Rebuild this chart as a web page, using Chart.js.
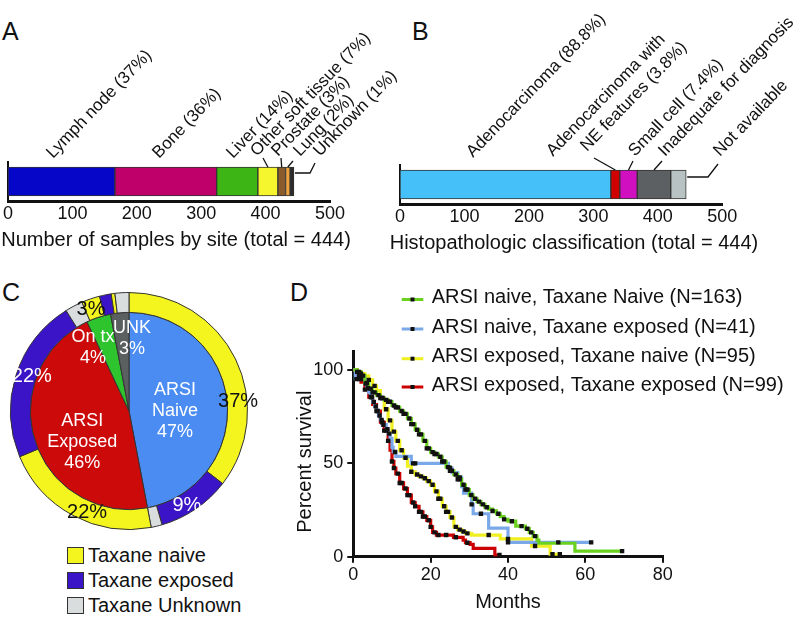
<!DOCTYPE html>
<html>
<head>
<meta charset="utf-8">
<title>Samples, histology, treatment and survival</title>
<script src="https://cdn.jsdelivr.net/npm/chart.js@4.4.1/dist/chart.umd.min.js"></script>
<style>
  html, body { margin: 0; padding: 0; background: #fff; }
  body { position: relative; width: 800px; height: 620px; overflow: hidden; font-family: "Liberation Sans", Arial, sans-serif; color: #111; }
  canvas { position: absolute; }
  .letter { position: absolute; font-size: 25px; line-height: 25px; }
  .key { position: absolute; left: 67px; height: 20px; font-size: 20px; line-height: 20px; white-space: nowrap; }
  .key i { position: absolute; left: 0; top: 2px; width: 15px; height: 15px; border: 1px solid #333; }
  .key span { position: absolute; left: 21px; top: 0; }
</style>
</head>
<body>
<div class="letter" style="left:2px;top:19px">A</div>
<div class="letter" style="left:412px;top:19px">B</div>
<div class="letter" style="left:2px;top:280px">C</div>
<div class="letter" style="left:290px;top:280px">D</div>

<canvas id="histoChart" width="410" height="260" style="left:390px;top:0"></canvas>
<canvas id="siteChart" width="420" height="260" style="left:0;top:0"></canvas>
<canvas id="treatChart" width="260" height="260" style="left:0;top:280px"></canvas>
<canvas id="survChart" width="510" height="340" style="left:290px;top:280px"></canvas>
<div id="treatKey"></div>

<script>
const FONT = '"Liberation Sans", Arial, sans-serif';
Chart.defaults.font.family = FONT;
Chart.defaults.color = '#111';

// A - samples by site
const siteLabels = ['Lymph node (37%)', 'Bone (36%)', 'Liver (14%)', 'Other soft tissue (7%)', 'Prostate (3%)', 'Lung (2%)', 'Unknown (1%)'];
const siteCounts = [166, 158, 64, 31, 12, 7, 6];
const siteColors = ['#0606c8', '#c0006a', '#3db515', '#f6f62e', '#8a5a2a', '#eea23a', '#2b2b2b'];

// B - histopathology
const histoLabels = ['Adenocarcinoma (88.8%)', 'Adenocarcinoma with', 'NE features (3.8%)', 'Small cell (7.4%)', 'Inadequate for diagnosis', 'Not available'];
const histoCounts = [327, 14, 27, 52, 24];
const histoColors = ['#45c0f8', '#d00000', '#d010c0', '#5c6062', '#b8c2c2'];

const countTicks = [0, 100, 200, 300, 400, 500];

// C - treatment status (inner = ARSI, outer = taxane)
const arsiLabels = [['ARSI', 'Naive', '47%'], ['ARSI', 'Exposed', '46%'], ['On tx', '4%'], ['UNK', '3%']];
const arsiPct = [47, 46, 4, 3];
const arsiColors = ['#4a8cf2', '#cc0a0a', '#2ec42e', '#5a5f5f'];
const taxaneStatus = ['naive', 'exposed', 'unknown', 'naive', 'exposed', 'unknown', 'naive', 'exposed', 'naive', 'unknown'];
const taxanePct = [35.5, 10, 1.5, 21.7, 22.4, 2.4, 2.5, 1.6, 0.5, 1.9];
const taxaneNotes = ['37%', '9%', '', '22%', '22%', '', '3%', '', '', ''];
const taxaneKey = ['Taxane naive', 'Taxane exposed', 'Taxane Unknown'];
const taxaneColors = { naive: '#f4f41e', exposed: '#3b14c8', unknown: '#d9dddd' };

// D - Kaplan-Meier
const survTicks = [0, 50, 100];
const monthTicks = [0, 20, 40, 60, 80];
const groupNames = ['ARSI naive, Taxane Naive (N=163)', 'ARSI naive, Taxane exposed (N=41)', 'ARSI exposed, Taxane naive (N=95)', 'ARSI exposed, Taxane exposed (N=99)'];
const groupColors = ['#6ad11f', '#7aa8e8', '#f0f020', '#cc0000'];

const naiveNaiveMonths = [0, 1, 2, 3, 4, 5, 6, 7, 8, 9, 10, 11, 12, 13, 14, 15, 16, 17, 18, 19, 20, 21, 22, 23, 24, 25, 26, 27, 28, 29, 30, 31, 32, 33, 34, 35, 36, 37, 38, 39, 40, 42, 44.5, 45.5, 46.5, 47.5, 48, 57.3, 69.5];
const naiveNaiveSurv = [100, 99, 97, 93, 90, 88, 86.5, 85, 84, 83, 81, 80, 78, 76.5, 74, 71, 68, 65.5, 62, 58, 56, 55, 53.5, 51, 48, 46, 44, 41.5, 38.5, 36, 33, 31, 29.5, 28, 26.5, 25.5, 24.5, 23, 21.5, 20, 19, 16.4, 15, 13, 11, 8.9, 7.2, 3, 3];
const naiveNaiveCensor = [1.5, 2.5, 3.5, 4.5, 5, 5.5, 6.5, 7, 7.5, 8.5, 9, 9.5, 10.5, 11, 11.5, 12.5, 13, 13.5, 14.5, 15, 15.5, 16.5, 17, 17.5, 18.5, 19, 19.5, 20.5, 21, 21.5, 22.5, 23, 23.5, 24.5, 25, 25.5, 26.5, 27, 27.5, 28.5, 29, 29.5, 30.5, 31.5, 32.5, 33.5, 34.5, 36, 37.5, 39, 41, 43.5, 45, 46, 47, 69.5];

const naiveExpMonths = [0, 0.5, 3, 3.5, 4, 4.5, 5, 5.5, 6, 6.5, 7, 7.5, 8.5, 9, 9.5, 10, 10.3, 11, 15, 24.6, 25.5, 27, 28, 28.5, 30.6, 31, 35, 40, 61.5];
const naiveExpSurv = [100, 95.1, 92.7, 90.2, 87.8, 85.4, 82.9, 80.5, 78, 75.6, 73.2, 70.7, 68.3, 65.9, 63.4, 58.5, 56.1, 53.7, 50, 47.5, 45, 42.5, 37.5, 34, 28, 23, 15.3, 7.7, 7.7];
const naiveExpCensor = [0.8, 1.5, 2, 3.2, 3.8, 4.8, 5.3, 5.8, 6.3, 6.8, 7.3, 7.8, 8.8, 9.3, 10.8, 15.5, 16, 25, 27.5, 30.6, 33, 40, 53, 61.5];

const expNaiveMonths = [0, 1, 2, 3, 4, 5, 6, 7, 8, 9, 10, 11, 12, 13, 14, 15, 16, 17, 18, 19, 20, 21, 22, 23, 24, 25, 26, 27, 28, 29, 30.6, 38, 46.1, 50.9, 53.4];
const expNaiveSurv = [100, 99, 98, 96.8, 94.7, 91.5, 89, 85, 79, 73, 67, 62, 57, 53, 48.5, 45.5, 44, 43, 42, 40.5, 38.5, 35, 31, 27, 24, 21, 16, 14.5, 13.5, 12.5, 11.6, 9.5, 5.7, 1.3, 1.3];
const expNaiveCensor = [1, 2, 4, 5.5, 7.5, 8.5, 9.5, 10.5, 11.5, 12.5, 13.5, 15, 16.5, 17.5, 18.5, 19.5, 20.5, 21.5, 22, 22.5, 23.5, 24, 24.5, 25.5, 26.5, 27.5, 28.5, 29.5, 35, 40, 47, 51.5, 53.4];

const expExpMonths = [0, 1, 2, 3, 4, 5, 6, 7, 8, 9, 9.5, 10, 10.5, 11, 12, 13, 14, 15, 16, 17, 18, 19, 20, 20.5, 21.5, 25.9, 28.4, 29, 30.2, 31, 36.6, 37.8];
const expExpSurv = [100, 97, 93.5, 89.5, 85.5, 81.5, 78, 72, 67.5, 62, 57, 51, 47.5, 44.5, 39.5, 36.5, 33, 29, 27, 24, 21.5, 19.5, 16, 13, 11.6, 10.4, 8.9, 7.5, 6.6, 4.5, 0.9, 0.9];
const expExpCensor = [1.5, 3, 4.5, 6, 7.5, 8, 8.5, 9, 10, 10.5, 11.5, 12, 12.5, 13.5, 14, 14.5, 15.5, 16, 17, 17.5, 18, 18.5, 19.5, 20, 21, 22, 24, 26.5, 29.5, 37.8];

// slanted labels, leader lines and axis title for the stacked bars
function slantPlugin(opts) {
    return {
        id: 'slant',
        afterDraw(chart) {
            const ctx = chart.ctx;
            ctx.save();
            ctx.strokeStyle = '#111';
            ctx.lineWidth = 1.3;
            opts.leaders.forEach(l => {
                const bar = chart.getDatasetMeta(l.seg).data[0];
                const top = bar.y - bar.height / 2;
                let sx = (bar.base + bar.x) / 2, sy = top;
                if (l.from === 'end') { sx = bar.x + 1; sy = top + l.dy; }
                ctx.beginPath();
                ctx.moveTo(sx, sy);
                l.pts.forEach(p => ctx.lineTo(p[0], p[1]));
                ctx.stroke();
            });
            ctx.fillStyle = '#111';
            ctx.font = '17px ' + FONT;
            ctx.textAlign = 'left';
            ctx.textBaseline = 'alphabetic';
            opts.notes.forEach(n => {
                ctx.save();
                ctx.translate(n.x, n.y);
                ctx.rotate(-46 * Math.PI / 180);
                ctx.fillText(n.text, 0, 0);
                ctx.restore();
            });
            // axis title, drawn here so it is not squeezed to the axis width
            ctx.font = '20px ' + FONT;
            ctx.textAlign = 'center';
            ctx.textBaseline = 'middle';
            ctx.fillText(opts.title, opts.titleX, opts.titleY);
            ctx.restore();
        }
    };
}

function barPanel(id, counts, colors, opts) {
    return new Chart(document.getElementById(id), {
        type: 'bar',
        data: {
            labels: [''],
            datasets: counts.map((v, i) => ({
                data: [v],
                backgroundColor: colors[i],
                borderColor: '#333',
                borderWidth: 1,
                borderSkipped: false,
                barThickness: 29
            }))
        },
        options: {
            indexAxis: 'y',
            responsive: false,
            animation: false,
            layout: { padding: opts.padding },
            plugins: { legend: { display: false }, tooltip: { enabled: false } },
            scales: {
                x: {
                    stacked: true, min: 0, max: 500,
                    afterBuildTicks: s => { s.ticks = countTicks.map(v => ({ value: v })); },
                    ticks: { font: { size: 18 }, padding: 2.2, maxRotation: 0 },
                    grid: { display: false, drawTicks: false },
                    border: { display: true, color: '#111', width: 3 },
                    title: { display: false },
                    afterFit: s => { s.height = opts.axisHeight; }
                },
                y: {
                    stacked: true,
                    ticks: { display: false },
                    grid: { display: false, drawTicks: false },
                    border: { display: true, color: '#111', width: 2 },
                    afterFit: s => { s.width = 0; }
                }
            }
        },
        plugins: [slantPlugin(opts)]
    });
}

barPanel('siteChart', siteCounts, siteColors, {
    padding: { left: 8, right: 90, top: 162, bottom: 0 },
    axisHeight: 59,
    title: 'Number of samples by site (total = 444)', titleX: 176, titleY: 240,
    notes: [
        { text: siteLabels[0], x: 53, y: 159 },
        { text: siteLabels[1], x: 159, y: 159 },
        { text: siteLabels[2], x: 233, y: 159 },
        { text: siteLabels[3], x: 257, y: 157 },
        { text: siteLabels[4], x: 278, y: 157 },
        { text: siteLabels[5], x: 300, y: 157 },
        { text: siteLabels[6], x: 320, y: 157 }
    ],
    leaders: [
        { seg: 3, pts: [[263, 158]] },
        { seg: 4, pts: [[281, 158]] },
        { seg: 5, pts: [[293, 161]] },
        { seg: 6, from: 'end', dy: 6, pts: [[310, 173], [315, 163]] }
    ]
});

barPanel('histoChart', histoCounts, histoColors, {
    padding: { left: 10, right: 77.7, top: 165, bottom: 0 },
    axisHeight: 56,
    title: 'Histopathologic classification (total = 444)', titleX: 184, titleY: 243,
    notes: [
        { text: histoLabels[0], x: 83, y: 158 },
        { text: histoLabels[1], x: 163, y: 157 },
        { text: histoLabels[2], x: 197, y: 152 },
        { text: histoLabels[3], x: 245, y: 157 },
        { text: histoLabels[4], x: 275, y: 157 },
        { text: histoLabels[5], x: 330, y: 157 }
    ],
    leaders: [
        { seg: 1, pts: [[204, 158]] },
        { seg: 2, pts: [[243, 161]] },
        { seg: 3, pts: [[272, 161]] },
        { seg: 4, from: 'end', dy: 7, pts: [[318, 177], [328, 164]] }
    ]
});

// C - nested pie
const ringNotes = [
    { a: 84.8, r: 109.5, color: '#111' },
    { a: 148.6, r: 111, color: '#fff' },
    null,
    { a: 202.4, r: 110, color: '#111' },
    { a: 289.3, r: 103, color: '#fff' },
    null,
    { a: 339.4, r: 108, color: '#111' },
    null, null, null
];
const innerNotes = [
    { a: 90, r: 46 },
    { a: 236.6, r: 56 },
    { a: 330.3, r: 72.6 },
    { a: 2.4, r: 73 }
];

const pieText = {
    id: 'pieText',
    afterDraw(chart) {
        const ctx = chart.ctx;
        const arc = chart.getDatasetMeta(0).data[0];
        const cx = arc.x, cy = arc.y;
        const at = (a, r) => [cx + r * Math.sin(a * Math.PI / 180), cy - r * Math.cos(a * Math.PI / 180)];
        ctx.save();
        ctx.textAlign = 'center';
        ctx.textBaseline = 'middle';
        ctx.font = '20px ' + FONT;
        taxaneNotes.forEach((t, i) => {
            const n = ringNotes[i];
            if (!t || !n) return;
            const [x, y] = at(n.a, n.r);
            ctx.fillStyle = n.color;
            ctx.fillText(t, x, y);
        });
        ctx.font = '18px ' + FONT;
        ctx.fillStyle = '#fff';
        arsiLabels.forEach((lines, i) => {
            const n = innerNotes[i];
            const [x, y] = at(n.a, n.r);
            const y0 = y - (lines.length - 1) * 21 / 2;
            lines.forEach((s, k) => ctx.fillText(s, x, y0 + k * 21));
        });
        ctx.restore();
    }
};

new Chart(document.getElementById('treatChart'), {
    type: 'doughnut',
    data: {
        labels: taxaneStatus,
        datasets: [
            { data: taxanePct, backgroundColor: taxaneStatus.map(s => taxaneColors[s]), borderColor: '#333', borderWidth: 1, weight: 20 },
            { data: arsiPct, backgroundColor: arsiColors, borderColor: '#333', borderWidth: 1, weight: 99 }
        ]
    },
    options: {
        responsive: false,
        animation: false,
        cutout: 0,
        layout: { padding: { left: 10, right: 12, top: 12, bottom: 10 } },
        plugins: { legend: { display: false }, tooltip: { enabled: false } }
    },
    plugins: [pieText]
});

const keyBox = document.getElementById('treatKey');
taxaneKey.forEach((name, i) => {
    const row = document.createElement('div');
    row.className = 'key';
    row.style.top = (545 + i * 25) + 'px';
    row.innerHTML = '<i style="background:' + taxaneColors[['naive', 'exposed', 'unknown'][i]] + '"></i><span>' + name + '</span>';
    keyBox.appendChild(row);
});

// D - survival curves
function survAt(months, surv, t) {
    let v = surv[0];
    for (let i = 0; i < months.length; i++) {
        if (months[i] <= t) v = surv[i];
    }
    return v;
}

const kmSets = [
    [naiveNaiveMonths, naiveNaiveSurv, naiveNaiveCensor],
    [naiveExpMonths, naiveExpSurv, naiveExpCensor],
    [expNaiveMonths, expNaiveSurv, expNaiveCensor],
    [expExpMonths, expExpSurv, expExpCensor]
];

const kmDatasets = [];
kmSets.forEach((g, i) => {
    kmDatasets.push({
        data: g[0].map((m, k) => ({ x: m, y: g[1][k] })),
        stepped: 'before',
        borderColor: groupColors[i],
        borderWidth: 3.2,
        pointRadius: 0,
        fill: false,
        order: 1
    });
});
kmSets.forEach(g => {
    kmDatasets.push({
        data: g[2].map(m => ({ x: m, y: survAt(g[0], g[1], m) })),
        showLine: false,
        pointStyle: 'rect',
        pointRadius: 3.1,
        backgroundColor: '#111',
        borderWidth: 0,
        order: 0
    });
});

const kmLegend = {
    id: 'kmLegend',
    afterDraw(chart) {
        const ctx = chart.ctx;
        const rows = [17.5, 47, 76.7, 105];
        ctx.save();
        ctx.font = '20px ' + FONT;
        ctx.textBaseline = 'middle';
        ctx.textAlign = 'left';
        ctx.fillStyle = '#111';
        groupNames.forEach((name, i) => {
            const y = rows[i];
            ctx.strokeStyle = groupColors[i];
            ctx.lineWidth = 3;
            ctx.beginPath();
            ctx.moveTo(111.7, y + 2);
            ctx.lineTo(133.3, y + 2);
            ctx.stroke();
            ctx.fillRect(120.5, y, 4, 4);
            ctx.fillText(name, 141.7, y);
        });
        // y axis title
        ctx.textAlign = 'center';
        ctx.translate(15, 181.7);
        ctx.rotate(-Math.PI / 2);
        ctx.fillText('Percent survival', 0, 0);
        ctx.restore();
    }
};

new Chart(document.getElementById('survChart'), {
    type: 'line',
    data: { datasets: kmDatasets },
    options: {
        responsive: false,
        animation: false,
        layout: { padding: { left: 0, right: 137.3, top: 71.3, bottom: 0 } },
        plugins: { legend: { display: false }, tooltip: { enabled: false } },
        scales: {
            x: {
                type: 'linear', min: 0, max: 80,
                afterBuildTicks: s => { s.ticks = monthTicks.map(v => ({ value: v })); },
                ticks: { font: { size: 18 }, padding: 1.5, maxRotation: 0 },
                grid: { display: true, drawOnChartArea: false, drawTicks: true, tickLength: 6, color: '#111', lineWidth: 2 },
                border: { display: true, color: '#111', width: 3 },
                title: { display: true, text: 'Months', font: { size: 20 }, padding: { top: 0, bottom: 6 } },
                afterFit: s => { s.height = 63.3; }
            },
            y: {
                type: 'linear', min: 0, max: 110,
                afterBuildTicks: s => { s.ticks = survTicks.map(v => ({ value: v })); },
                ticks: { font: { size: 18 }, padding: 4 },
                grid: { display: true, drawOnChartArea: false, drawTicks: true, tickLength: 6, color: '#111', lineWidth: 2 },
                border: { display: true, color: '#111', width: 3 },
                title: { display: false },
                afterFit: s => { s.width = 63.3; }
            }
        }
    },
    plugins: [kmLegend]
});
</script>
</body>
</html>
